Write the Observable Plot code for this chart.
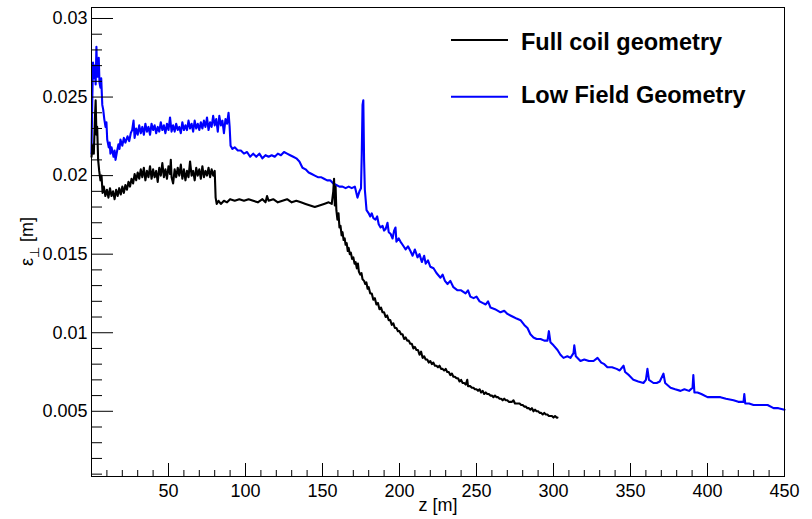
<!DOCTYPE html>
<html><head><meta charset="utf-8">
<script src="https://cdn.jsdelivr.net/npm/d3@7"></script>
<script src="https://cdn.jsdelivr.net/npm/@observablehq/plot@0.6"></script>
<style>body{margin:0;background:#fff}svg{display:block}</style>
</head><body><div id="chart"></div>
<script>
// Full coil geometry (black)
const fullZ = [0,0.8,1.5,2.2,2.7,3.2,3.7,4.3,5,5.8,6.5,7.2,8,9,10,11,12,13,14,15,16,17,18,19,20,21,22,23,24,25,26,27,28,29,30,31,32,33,34,35,36,37,38,39,40,41,42,43,44,45,46,47,48,49,50,51,51.5,52,53,54,55,56,57,58,59,60,61,62,63,64,65,66,67,68,69,70,71,72,73,74,75,76,77,78,79,80,80.6,81.3,82.5,84,86,88,90,93,96,99,102,105,108,111,113,114,115,118,121,124,127,130,133,136,139,142,145,148,151,154,156,157,157.5,158,158.5,
  159,159.7,160.4,161,161.7,162.4,163,163.7,164.4,165,165.7,166.4,167,167.7,168.4,169.2,170,170.8,171.5,172.3,173,173.6,174.5,175.3,176,177,177.8,178.5,179.3,180,181,182,183,184,185,186,187,188,189,190,191,192,193,194,195,196,197,198,199,200,201,202,203,204,205,206,207,208,209,210,211,212,213,214,215,216,217,218,219,220,221,222,223,224,225,226,227,228,229,230,231,232,233,234,235,236,237,238,239,240,241,242,243,244,244.5,246,247,248,249,250,251,252,253,254,255,256,257,258,259,260,261,262,263,264,265,266,267,268,269,270,271,272,273,274,275,276,277,278,279,280,281,282,283,284,285,286,287,288,289,290,291,292,293,294,295,296,297,298,299,300,301,302,302.6];
const fullEps = [0.0212,0.0219,0.0214,0.0236,0.0248,0.0226,0.0231,0.0210,0.0203,0.0197,0.0200,0.0189,0.0193,0.0187,0.0191,0.0186,0.0192,0.0187,0.0190,0.0185,0.0191,0.0187,0.0192,0.0188,0.0193,0.0189,0.0194,0.0191,0.0196,0.0193,0.0198,0.0195,0.0201,0.0197,0.0202,0.0198,0.0204,0.0199,0.0205,0.0197,0.0203,0.0199,0.0206,0.0198,0.0204,0.0199,0.0203,0.0196,0.0205,0.0200,0.0208,0.0199,0.0204,0.0198,0.0206,0.0201,0.0210,0.0199,0.0195,0.0204,0.0199,0.0205,0.0200,0.0207,0.0198,0.0204,0.0197,0.0203,0.0199,0.0209,0.0200,0.0203,0.0197,0.0205,0.0200,0.0204,0.0198,0.0206,0.0199,0.0203,0.0200,0.0205,0.0199,0.0204,0.0200,0.0203,0.0186,0.0182,0.0184,0.0182,0.0184,0.0183,0.0185,0.0184,0.0185,0.0184,0.0185,0.0184,0.0183,0.0185,0.0183,0.0187,0.0184,0.0185,0.0183,0.0184,0.0185,0.0183,0.0184,0.0183,0.0182,0.0181,0.0180,0.0181,0.0182,0.0183,0.0182,0.0190,0.0198,0.0181,0.0193,
  0.0178,0.0172,0.0176,0.0167,0.0168,0.0162,0.0164,0.0159,0.0160,0.0156,0.0157,0.0152,0.0154,0.0150,0.0151,0.0147,0.0148,0.0144,0.0145,0.0141,0.0144,0.0139,0.0137,0.0138,0.0134,0.0133,0.0131,0.0132,0.0128,0.0129,0.0125,0.0125,0.0121,0.0122,0.0118,0.0119,0.0115,0.0116,0.0113,0.0113,0.0110,0.0111,0.0108,0.0108,0.0105,0.0106,0.0103,0.0103,0.0101,0.0101,0.0099,0.0099,0.0096,0.0097,0.0095,0.0095,0.0093,0.0093,0.0090,0.0091,0.0089,0.0089,0.0086,0.0088,0.0084,0.0085,0.0083,0.0083,0.0081,0.0082,0.0080,0.0081,0.0079,0.0079,0.0078,0.0079,0.0077,0.0077,0.0076,0.0077,0.0075,0.0075,0.0073,0.0074,0.0072,0.0072,0.0071,0.0071,0.0069,0.0070,0.0068,0.0068,0.0067,0.0070,0.0066,0.0066,0.0065,0.0065,0.0064,0.0064,0.0063,0.0064,0.0062,0.0063,0.0061,0.0062,0.0061,0.0061,0.0060,0.0060,0.0059,0.0060,0.0059,0.0059,0.0058,0.0058,0.0057,0.0058,0.0057,0.0057,0.0056,0.0056,0.0056,0.0057,0.0055,0.0055,0.0055,0.0055,0.0054,0.0054,0.0053,0.0053,0.0052,0.0052,0.0051,0.0052,0.0050,0.0051,0.0050,0.0050,0.0049,0.0049,0.0048,0.0049,0.0048,0.0048,0.0047,0.0047,0.0047,0.0046,0.0047,0.0046,0.0046];
// Low Field Geometry (blue)
const lowZ = [0,0.5,1,1.5,2.1,2.7,3.2,3.6,3.9,4.3,4.7,5.2,5.8,6.3,7,7.6,8.3,9.1,9.7,10.2,11.2,11.8,12.3,13,14.3,15,15.6,16.5,17.5,18.2,18.8,20,21,22,23.4,24.5,25.5,26.4,27.3,28,29,30,31,32,33,34,35,36,37,38,39,40,41,42,43,44,45,46,47,48,49,50,51,52,53,54,55,56,57,58,59,60,61,62,63,64,65,66,67,68,69,70,71,72,73,74,75,76,77,78,79,80,81,82,83,84,85,86,87,88,89,89.7,90.3,91.5,93,95,97,99,101,103,105,107,109,111,113,115,117,119,121,123,125,127,129,131,133,135,137,139,141,143,145,147,149,151,153,155,157,159,161,163,165,167,169,171,172.7,174,175,175.5,176,176.5,177,177.5,178.6,180,181,182,183,184.4,185.5,186.5,187.7,189,190,191,192.2,193,194.2,195.5,196.5,197.4,198,199.5,200.6,202,204,205.5,207.1,208.5,210,211.7,213,214.5,216,217,218.5,220,222.1,224,226.6,228,229.5,231.2,233,235,237.7,240,242.9,244.5,246,248.1,250,252,253.9,256,257.5,259.1,262,265.6,268,270.1,272,274,276,278.6,281,283.1,285,287,289,291.6,294,296.1,297,298,300,302.6,304.5,306.5,309,311,313,313.5,314.5,317.5,320,323,326,328.6,331,333,335,338,341,343,345.5,346.5,349,351.9,355,358.4,360,361,362,364.9,367,369,371.4,372.5,376,379,382.5,385,388,390.3,390.8,391.5,393.5,396,400,404,408.4,412,416.9,420,423.4,423.9,424.5,427,429.9,433,436,439,442.9,446,450];
const lowEps = [0.0214,0.0248,0.0272,0.0262,0.0270,0.0258,0.0282,0.0265,0.0263,0.0271,0.0275,0.0259,0.0256,0.0262,0.0245,0.0242,0.0236,0.0231,0.0234,0.0223,0.0218,0.0221,0.0214,0.0218,0.0212,0.0216,0.0210,0.0215,0.0220,0.0217,0.0223,0.0219,0.0224,0.0221,0.0225,0.0222,0.0227,0.0229,0.0235,0.0224,0.0230,0.0226,0.0232,0.0227,0.0231,0.0226,0.0233,0.0228,0.0231,0.0226,0.0233,0.0229,0.0232,0.0227,0.0231,0.0228,0.0234,0.0229,0.0232,0.0227,0.0233,0.0229,0.0237,0.0228,0.0232,0.0228,0.0233,0.0229,0.0231,0.0227,0.0234,0.0229,0.0232,0.0229,0.0235,0.0230,0.0233,0.0228,0.0235,0.0230,0.0233,0.0229,0.0234,0.0230,0.0235,0.0231,0.0237,0.0229,0.0234,0.0231,0.0238,0.0232,0.0236,0.0228,0.0238,0.0232,0.0235,0.0227,0.0236,0.0233,0.0240,0.0231,0.0219,0.0217,0.0218,0.0216,0.0216,0.0214,0.0215,0.0212,0.0214,0.0212,0.0214,0.0211,0.0213,0.0212,0.0213,0.0212,0.0214,0.0213,0.0215,0.0214,0.0213,0.0212,0.0211,0.0209,0.0205,0.0204,0.0202,0.0201,0.0200,0.0199,0.0199,0.0198,0.0197,0.0197,0.0195,0.0194,0.0193,0.0193,0.0192,0.0193,0.0192,0.0193,0.0186,0.0190,0.0192,0.0214,0.0245,0.0248,0.0210,0.0191,0.0178,0.0176,0.0174,0.0176,0.0173,0.0172,0.0174,0.0169,0.0167,0.0168,0.0165,0.0166,0.0170,0.0164,0.0163,0.0160,0.0165,0.0167,0.0158,0.0160,0.0158,0.0156,0.0153,0.0155,0.0152,0.0149,0.0153,0.0148,0.0150,0.0145,0.0149,0.0144,0.0146,0.0142,0.0141,0.0138,0.0135,0.0137,0.0133,0.0131,0.0133,0.0129,0.0127,0.0127,0.0125,0.0127,0.0123,0.0122,0.0123,0.0120,0.0119,0.0118,0.0120,0.0116,0.0115,0.0113,0.0114,0.0112,0.0111,0.0110,0.0109,0.0108,0.0105,0.0103,0.0099,0.0097,0.0096,0.0096,0.0095,0.0095,0.0101,0.0094,0.0092,0.0089,0.0086,0.0084,0.0085,0.0084,0.0087,0.0092,0.0085,0.0082,0.0083,0.0082,0.0082,0.0084,0.0081,0.0080,0.0078,0.0078,0.0077,0.0076,0.0079,0.0075,0.0073,0.0070,0.0069,0.0068,0.0070,0.0077,0.0070,0.0068,0.0068,0.0069,0.0074,0.0068,0.0065,0.0064,0.0063,0.0064,0.0063,0.0065,0.0073,0.0062,0.0062,0.0061,0.0059,0.0059,0.0059,0.0058,0.0057,0.0056,0.0056,0.0061,0.0055,0.0055,0.0054,0.0054,0.0054,0.0054,0.0052,0.0052,0.0051];

const xTicks = [50,100,150,200,250,300,350,400,450];
const xMinorTicks = [10,20,30,40,60,70,80,90,110,120,130,140,160,170,180,190,210,220,230,240,260,270,280,290,310,320,330,340,360,370,380,390,410,420,430,440];
const yTicks = [0.005,0.01,0.015,0.02,0.025,0.03];
const yMinorTicks = [0.001,0.002,0.003,0.004,0.006,0.007,0.008,0.009,0.011,0.012,0.013,0.014,0.016,0.017,0.018,0.019,0.021,0.022,0.023,0.024,0.026,0.027,0.028,0.029];
const seriesNames = ["Full coil geometry", "Low Field Geometry"];
const seriesColors = ["#000000", "#0000ff"];
const xLabel = "z [m]";

const full = fullZ.map((z, i) => ({z, eps: fullEps[i]}));
const low = lowZ.map((z, i) => ({z, eps: lowEps[i]}));

const W = 812, H = 519, mL = 91, mR = 28, mT = 7, mB = 43;
const plotW = W - mL - mR, plotH = H - mT - mB;

const chart = Plot.plot({
  width: W, height: H,
  marginLeft: mL, marginRight: mR, marginTop: mT, marginBottom: mB,
  style: {fontFamily: '"Liberation Sans", Arial, Helvetica, sans-serif', fontSize: "18px", background: "#fff", color: "#000", overflow: "visible"},
  x: {domain: [0, 450], ticks: xTicks, tickSize: 0, tickPadding: 8, label: null},
  y: {domain: [0.00085, 0.0307], ticks: yTicks, tickSize: 0, tickPadding: 4, label: null,
      tickFormat: d => String(+d.toFixed(3))},
  marks: [
    Plot.line(low, {x: "z", y: "eps", stroke: seriesColors[1], strokeWidth: 2.1}),
    Plot.line(full, {x: "z", y: "eps", stroke: seriesColors[0], strokeWidth: 2.1}),
    Plot.tickX(xMinorTicks, {x: d => d, stroke: "#000", insetTop: plotH - 6}),
    Plot.tickX(xTicks, {x: d => d, stroke: "#000", insetTop: plotH - 13}),
    Plot.tickY(yMinorTicks, {y: d => d, stroke: "#000", insetRight: plotW - 11}),
    Plot.tickY(yTicks, {y: d => d, stroke: "#000", insetRight: plotW - 22}),
    Plot.frame({stroke: "#000"}),
    Plot.text([xLabel], {text: d => d, frameAnchor: "bottom", lineAnchor: "bottom", dy: 34, fontSize: 18})
  ]
});
document.getElementById("chart").appendChild(chart);

const svg = d3.select(chart);
// y-axis title: epsilon with perpendicular subscript
const yt = svg.append("text")
  .attr("transform", `translate(33,${mT + plotH / 2}) rotate(-90)`)
  .attr("text-anchor", "middle")
  .attr("font-size", 18)
  .attr("fill", "#000");
yt.append("tspan").text("ε");
yt.append("tspan").attr("font-size", 13).attr("dy", 6).text("⊥");
yt.append("tspan").attr("dy", -6).text(" [m]");

// legend
const legendRows = [{y: 40, tb: 50}, {y: 96.7, tb: 103.4}];
seriesNames.forEach((name, i) => {
  const g = svg.append("g");
  g.append("line").attr("x1", 451).attr("x2", 508)
    .attr("y1", legendRows[i].y).attr("y2", legendRows[i].y)
    .attr("stroke", seriesColors[i]).attr("stroke-width", 2);
  g.append("text").attr("x", 521).attr("y", legendRows[i].tb)
    .attr("text-anchor", "start")
    .attr("font-size", 23.5).attr("font-weight", "bold").attr("fill", "#000")
    .text(name);
});
</script>
</body></html>
